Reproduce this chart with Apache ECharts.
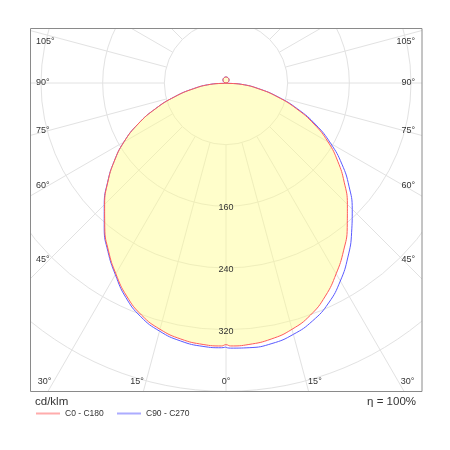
<!DOCTYPE html>
<html><head><meta charset="utf-8">
<script src="https://cdn.jsdelivr.net/npm/echarts@6/dist/echarts.min.js"></script>
<style>html,body{margin:0;padding:0;background:#fff}#c{width:450px;height:450px}</style>
</head><body><div id="c"></div>
<script>
// Gamma angles (degrees from nadir)
const gamma = [0,1,5,10,15,20,25,30,35,40,45,50,55,60,65,70,75,80,85,90,95,100,105,110,115,120,125,130,135,140,145,150,155,160,165,170,175,180];
// Luminous intensity, cd/klm
const c0   = [339.5,341.2,340.5,337.3,330.8,320.4,305.0,285.8,265.8,244.7,222.7,200.2,177.0,152.8,125.9,97.1,68.8,42.9,20.5,0,0.7,1.4,2,2.7,3.3,3.9,4.5,5,5.5,6,6.4,6.75,7.1,7.3,7.5,7.7,7.8,7.8];
const c180 = [339.5,341.2,340.5,337.3,330.8,320.4,305.0,285.8,265.8,244.7,222.7,200.2,177.0,152.8,125.9,97.1,68.8,42.9,20.5,0,0.7,1.4,2,2.7,3.3,3.9,4.5,5,5.5,6,6.4,6.75,7.1,7.3,7.5,7.7,7.8,7.8];
const c90  = [342.5,344.0,344.7,343.2,337.6,328.4,314.9,296.6,275.7,253.5,231.6,208.3,183.6,156.8,128.9,99.2,69.9,43.2,20.6,0,0.7,1.4,2,2.7,3.3,3.9,4.5,5,5.5,6,6.4,6.75,7.1,7.3,7.5,7.7,7.8,7.8];
const c270 = [342.0,343.5,343.0,339.8,333.2,322.8,307.2,287.1,267.0,245.8,223.4,200.5,177.0,152.8,125.9,97.1,68.8,42.9,20.5,0,0.7,1.4,2,2.7,3.3,3.9,4.5,5,5.5,6,6.4,6.75,7.1,7.3,7.5,7.7,7.8,7.8];
const ringLabels = [160,240,320];
const angleLabels = [0,15,30,45,60,75,90,105];
const gridAngles = [0,15,30,45,60,75,90,105,120,135,150,165,180,195,210,225,240,255,270,285,300,315,330,345];
const seriesNames = ['C0 - C180','C90 - C270'];

const CX = 226, CY = 83, R_MAX = 480, R_PX = 370, R_INNER = 80;
const FONT = 'Liberation Sans, Arial, sans-serif';

function halfPlanes(right, left) {
  const pts = [];
  for (let i = gamma.length - 1; i >= 0; i--) pts.push([right[i], 360 - gamma[i]]);
  for (let i = 0; i < gamma.length; i++) pts.push([left[i], gamma[i]]);
  return pts;
}

const labelEls = [];
angleLabels.forEach(g => {
  const sides = g === 0 ? [0] : [-1, 1];
  sides.forEach(s => {
    const rad = g * Math.PI / 180;
    let x, y, align;
    if (g <= 30) {
      y = 382;
      x = CX + s * (y - CY) * Math.tan(rad) + s * 2;
      align = s < 0 ? 'right' : (s > 0 ? 'left' : 'center');
    } else {
      y = Math.max(42, CY + 177 / Math.tan(rad));
      x = s < 0 ? 36 : 415;
      align = s < 0 ? 'left' : 'right';
    }
    labelEls.push({type:'text', x:x, y:y, z:60, silent:true,
      style:{text:g + '°', align:align, verticalAlign:'middle', fontSize:9, fontFamily:FONT, fill:'#333'}});
  });
});

const covers = [
  {type:'rect', shape:{x:0,y:0,width:30,height:450}},
  {type:'rect', shape:{x:422,y:0,width:28,height:450}},
  {type:'rect', shape:{x:0,y:0,width:450,height:28}},
  {type:'rect', shape:{x:0,y:392,width:450,height:58}}
].map(e => Object.assign(e, {z:50, silent:true, style:{fill:'#fff'}}));

const legendBase = {top:409, itemWidth:24, itemHeight:8, padding:0, selectedMode:false, z:70,
  textStyle:{fontSize:8.5, fontFamily:FONT, color:'#333'}, lineStyle:{opacity:0.5}, itemStyle:{opacity:0}};

const chart = echarts.init(document.getElementById('c'), null, {renderer:'canvas'});
chart.setOption({
  animation:false,
  backgroundColor:'#fff',
  polar:{center:[CX, CY], radius:R_PX},
  angleAxis:{type:'value', min:0, max:360, startAngle:270, clockwise:true,
    axisLine:{show:false}, axisTick:{show:false}, axisLabel:{show:false}, splitLine:{show:false}},
  radiusAxis:{type:'value', min:0, max:R_MAX, interval:80,
    axisLine:{show:false}, axisTick:{show:false}, axisLabel:{show:false},
    splitLine:{show:true, lineStyle:{color:'#e2e2e2', width:1}}},
  legend:[
    Object.assign({data:[seriesNames[0]], left:35}, legendBase),
    Object.assign({data:[seriesNames[1]], left:116}, legendBase)
  ],
  graphic:{elements: covers.concat([
    {type:'rect', z:55, silent:true, shape:{x:30.5,y:28.5,width:391.5,height:363}, style:{fill:null, stroke:'#8a8a8a', lineWidth:1}},
    {type:'text', z:60, x:35, y:402, silent:true, style:{text:'cd/klm', align:'left', verticalAlign:'middle', fontSize:11.5, fontFamily:FONT, fill:'#333'}},
    {type:'text', z:60, x:416, y:402, silent:true, style:{text:'η = 100%', align:'right', verticalAlign:'middle', fontSize:11.5, fontFamily:FONT, fill:'#333'}}
  ]).concat(labelEls)},
  series:[
    {type:'custom', coordinateSystem:'polar', z:1, silent:true,
      data: gridAngles.map(a => [R_MAX, a]),
      renderItem:(params, api) => {
        const a = api.value(1);
        const p0 = api.coord([R_INNER, a]);
        const p1 = api.coord([R_MAX, a]);
        return {type:'line', shape:{x1:p0[0], y1:p0[1], x2:p1[0], y2:p1[1]}, style:{stroke:'#e2e2e2', lineWidth:1}};
      }},
    {type:'line', name:seriesNames[1], coordinateSystem:'polar', symbol:'none', z:3, smooth:0.5,
      data: halfPlanes(c90, c270),
      lineStyle:{color:'#5a5aff', width:1}, itemStyle:{color:'#5a5aff'}},
    {type:'line', name:seriesNames[0], coordinateSystem:'polar', symbol:'none', z:4, smooth:0.5,
      data: halfPlanes(c0, c180),
      lineStyle:{color:'#ff5a5a', width:1}, itemStyle:{color:'#ff5a5a'},
      areaStyle:{color:'rgba(255,252,140,0.45)', opacity:1}},
    {type:'custom', coordinateSystem:'polar', z:10, silent:true,
      data: ringLabels.map(v => [v, 0]),
      renderItem:(params, api) => {
        const p = api.coord([api.value(0), api.value(1)]);
        return {type:'text', x:p[0], y:p[1] + 1.5,
          style:{text:String(api.value(0)), align:'center', verticalAlign:'middle', fontSize:9, fontFamily:FONT, fill:'#333'}};
      }}
  ]
});
</script></body></html>
